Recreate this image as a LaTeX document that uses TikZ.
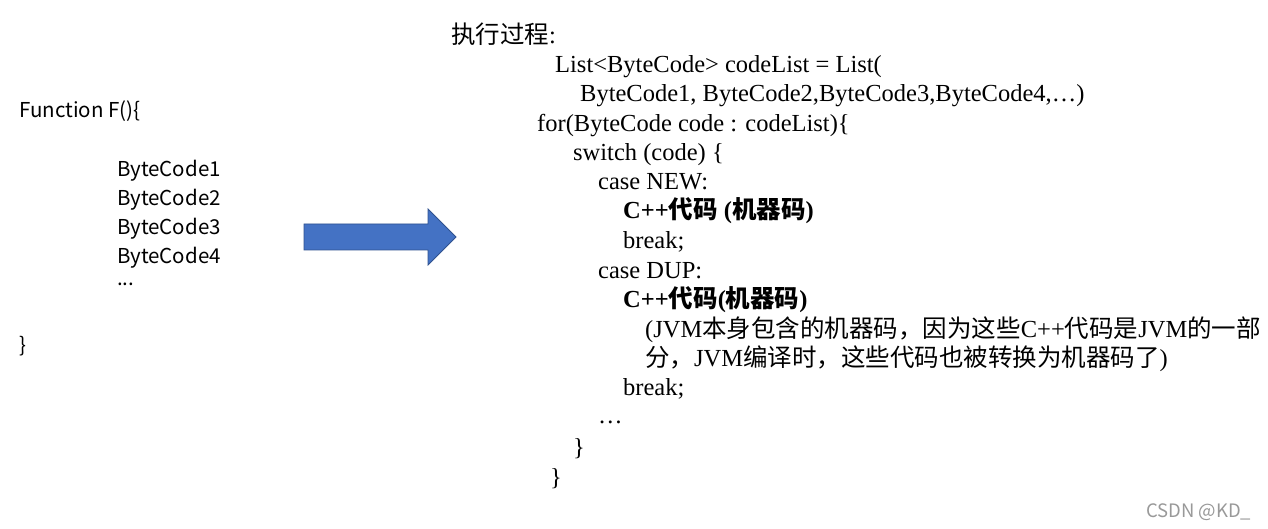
\documentclass[tikz,border=0pt]{standalone}
\usepackage{fontspec}
\setmainfont{Liberation Serif}
\newfontfamily\cjk{Noto Sans CJK SC}
\newfontfamily\uisans{Noto Sans CJK SC}
\usetikzlibrary{calc,positioning}
\newcommand{\zh}[1]{{\cjk #1}}
\definecolor{arrowblue}{HTML}{4472C4}
\definecolor{arrowedge}{HTML}{2F528F}

\begin{document}
\begin{tikzpicture}[
  x=1pt,y=-1pt,
  src/.style={anchor=base west,inner sep=0pt,font=\uisans\fontsize{20.5}{25}\selectfont},
  code/.style={anchor=base west,inner sep=0pt,font=\fontsize{24.5}{29}\selectfont},
  hot/.style={code,font=\bfseries\fontsize{24.5}{29}\selectfont},
  blockarrow/.style={fill=arrowblue,draw=arrowedge,line width=0.8pt}
]
  \useasboundingbox[fill=white] (0,0) rectangle (1268,529);

  % Source function with its byte codes
  \node[src] (fn) at (19,118) {Function F()\{};
  \node[src] (bc1) at (117,177) {ByteCode1};
  \node[src] (bc2) at (117,206) {ByteCode2};
  \node[src] (bc3) at (117,235) {ByteCode3};
  \node[src] (bc4) at (117,264) {ByteCode4};
  \node[src] (bcdots) at (117,285) {...};
  \node[src] (fnend) at (19,352) {\}};

  % Block arrow
  \coordinate (A) at (304,237);
  \draw[blockarrow]
    ($(A)+(0,-13)$) -- ($(A)+(124,-13)$) -- ($(A)+(124,-28)$)
    -- ($(A)+(152,0)$) -- ($(A)+(124,28)$) -- ($(A)+(124,13)$)
    -- ($(A)+(0,13)$) -- cycle;

  % Execution process
  \node[code] (title) at (451,44) {\zh{执行过程}:};
  \node[code] (l1) at (555,73) {List<ByteCode> codeList = List(};
  \node[code] (l2) at (580,102) {ByteCode1, ByteCode2,ByteCode3,ByteCode4,\ldots)};
  \node[code] (l3) at (537,132) {for(ByteCode code : codeList)\{};
  \node[code] (l4) at (573,161) {switch (code) \{};
  \node[code] (l5) at (598,190) {case NEW:};
  \node[hot]  (l6) at (623,219) {C++\zh{代码} (\zh{机器码})};
  \node[code] (l7) at (623,248) {break;};
  \node[code] (l8) at (598,278) {case DUP:};
  \node[hot]  (l9) at (623,307) {C++\zh{代码}(\zh{机器码})};
  \node[code] (l10) at (645,337) {(JVM\zh{本身包含的机器码，因为这些}C++\zh{代码是}JVM\zh{的一部}};
  \node[code] (l11) at (645,366) {\zh{分，}JVM\zh{编译时，这些代码也被转换为机器码了})};
  \node[code] (l12) at (623,395) {break;};
  \node[code] (l13) at (598,423) {\ldots};
  \node[code] (l14) at (573,455) {\}};
  \node[code] (l15) at (550,485) {\}};

  \node[anchor=base west,inner sep=0pt,text=black!40,
    font=\uisans\fontsize{18.5}{22}\selectfont] (mark) at (1146,517) {CSDN @KD\_};
\end{tikzpicture}
\end{document}
